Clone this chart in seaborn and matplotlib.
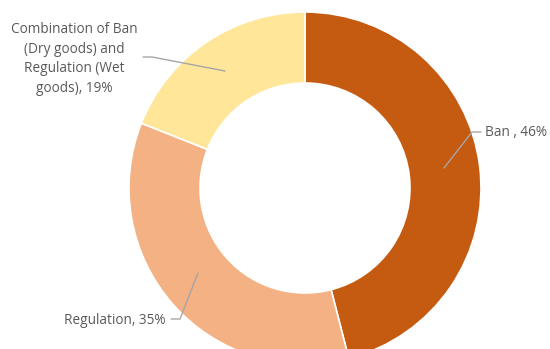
import matplotlib
matplotlib.use("Agg")
import matplotlib.pyplot as plt
import seaborn as sns

categories = ["Ban", "Regulation", "Combination of Ban\n(Dry goods) and\nRegulation (Wet\ngoods)"]
shares = [46, 35, 19]
label_texts = ["Ban , 46%", "Regulation, 35%", "Combination of Ban\n(Dry goods) and\nRegulation (Wet\ngoods), 19%"]
colors = ["#C55A11", "#F4B183", "#FFE699"]

sns.set_theme(style="white")
plt.rcParams['font.family'] = ['Open Sans', 'DejaVu Sans']

fig = plt.figure(figsize=(5.5, 3.49), dpi=100)
ax = fig.add_axes([0, 0, 1, 1])
ax.pie(shares, colors=colors, startangle=90, counterclock=False,
       center=(305, -188), radius=176,
       wedgeprops=dict(width=71, edgecolor="white", linewidth=1.2))
ax.set_xlim(0, 550)
ax.set_ylim(-349, 0)
ax.set_aspect("equal")
ax.axis("off")

tc = "#595959"
lc = "#A6A6A6"
fs = 9.8
# Ban
ax.plot([481, 472, 444], [-132, -132, -168], color=lc, lw=1)
ax.text(485, -132, label_texts[0], color=tc, fontsize=fs, ha="left", va="center")
# Regulation
ax.plot([171, 180, 198], [-319, -319, -273], color=lc, lw=1)
ax.text(166, -320, label_texts[1], color=tc, fontsize=fs, ha="right", va="center")
# Combination
ax.plot([143, 152, 225], [-57, -57, -71], color=lc, lw=1)
ax.text(74, -59, label_texts[2], color=tc, fontsize=fs, ha="center", va="center",
        linespacing=1.4)

fig.savefig("out.png", dpi=100)
